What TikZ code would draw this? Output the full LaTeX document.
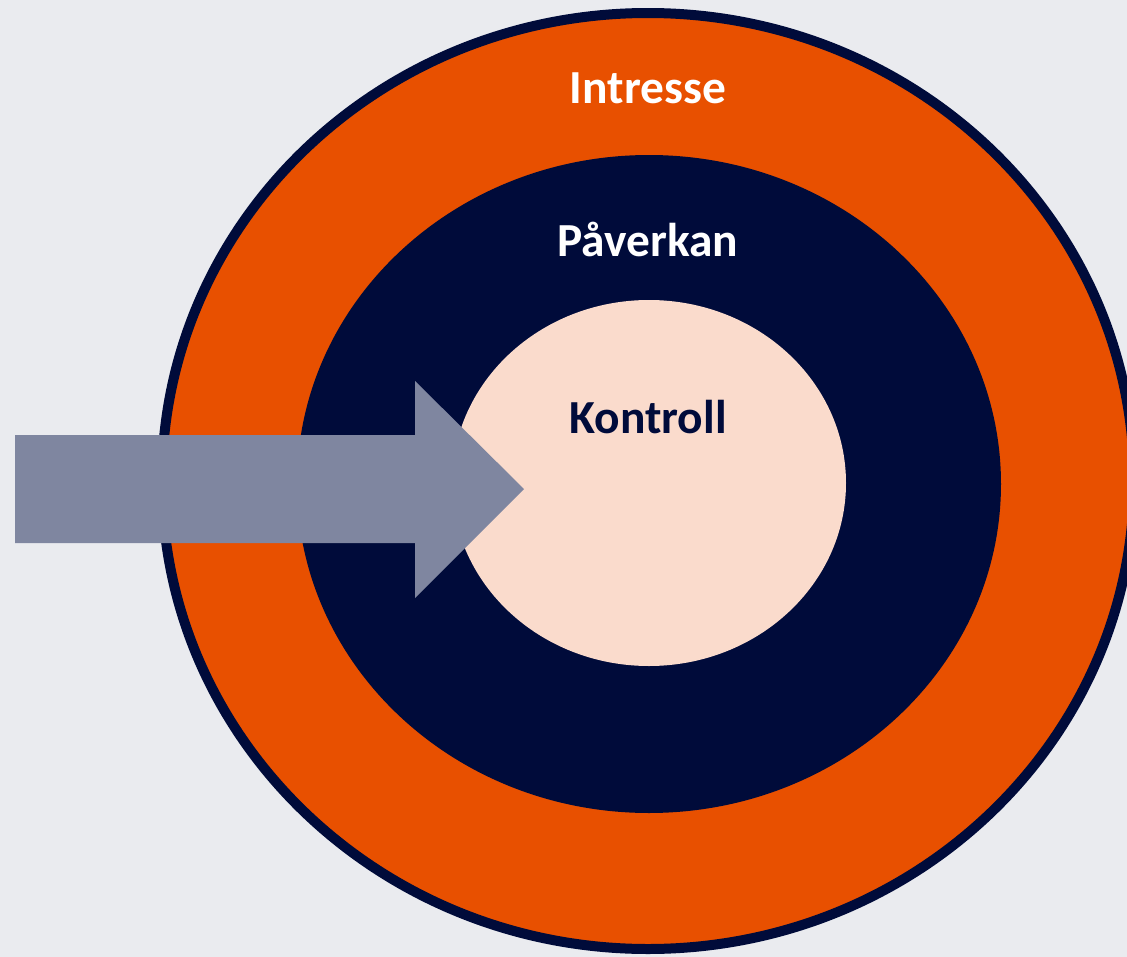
\documentclass[tikz,border=0pt]{standalone}
\usepackage{fontspec}
\setmainfont{Carlito}
\usepackage{tikz}
\usetikzlibrary{positioning}

\definecolor{bggray}{HTML}{EAEBEF}
\definecolor{ringorange}{HTML}{E85000}
\definecolor{ringnavy}{HTML}{000B3A}
\definecolor{corepeach}{HTML}{FADBCC}
\definecolor{arrowgray}{HTML}{7F86A0}

\begin{document}
\begin{tikzpicture}[x=0.02cm, y=-0.02cm,
    ringlabel/.style={anchor=base, font=\fontsize{27}{32}\selectfont\bfseries}]

    \useasboundingbox (0,0) rectangle (1127,957);
    \clip (0,0) rectangle (1127,957);
    \fill[bggray] (0,0) rectangle (1127,957);

    % ringar
    \filldraw[fill=ringorange, draw=ringnavy, line width=0.2cm] (648,481) ellipse [x radius=486, y radius=468];
    \fill[ringnavy] (649,484) ellipse [x radius=352, y radius=329];
    \fill[corepeach] (649,483) ellipse [x radius=197, y radius=183];

    % pil in mot mitten
    \fill[arrowgray] (15,435) -- (415,435) -- (415,381) -- (524,489)
        -- (415,598) -- (415,543) -- (15,543) -- cycle;

    \node[ringlabel, text=white] (intresse) at (648,103) {Intresse};
    \node[ringlabel, text=white] (paverkan) at (648,256) {Påverkan};
    \node[ringlabel, text=ringnavy] (kontroll) at (648,433) {Kontroll};

\end{tikzpicture}
\end{document}
